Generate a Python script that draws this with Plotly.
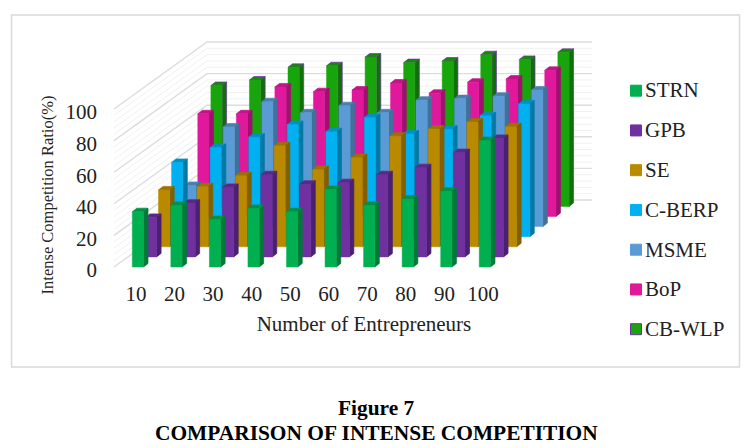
import plotly.graph_objects as go

categories = ["10", "20", "30", "40", "50", "60", "70", "80", "90", "100"]
y_ticks = [0, 20, 40, 60, 80, 100]
STRN = [35, 39, 30, 37, 35, 49, 39, 43, 48, 80]
GPB = [25, 34, 44, 52, 46, 47, 52, 56.5, 66, 75]
SE = [36, 38, 45, 64, 49, 56.5, 70, 74.5, 79, 76]
C_BERP = [47, 56.5, 63, 71, 66.5, 75.5, 65, 68, 76.5, 84]
MSME = [26, 63, 79, 72, 76.5, 72, 80, 81, 82.5, 86.5]
BoP = [65, 65, 82, 79, 80, 84.5, 78, 85, 87, 92.5]
CB_WLP = [76.5, 80, 88, 89, 94.5, 91, 92, 96, 93, 97.5]

series = [
    ("STRN", STRN, "#00b050", "#007a38", "#009045", "#00b050"),
    ("GPB", GPB, "#7030a0", "#4a2070", "#5c2888", "#7030a0"),
    ("SE", SE, "#b98a00", "#806000", "#9a7300", "#b98a00"),
    ("C-BERP", C_BERP, "#00b0f0", "#0079a6", "#0090c8", "#00b0f0"),
    ("MSME", MSME, "#5b9bd5", "#41709a", "#4a80b0", "#5b9bd5"),
    ("BoP", BoP, "#e0189c", "#a0116f", "#c01585", "#e0189c"),
    ("CB-WLP", CB_WLP, "#18a50c", "#116f09", "#148a0a", "#7030a0"),
]

W, H = 756, 448
def fx_paper(px):
    return px / W
def fy_paper(px):
    return 1 - px / H

X0_PX, X_PX = 136.0, 38.55     # page pixel of tick 0, pixels per category
Y0_PX, Y_PX = 267.0, 1.58      # page pixel of value 0, pixels per value unit
DOM_X1, DOM_Y1 = 728, 390      # right and bottom page pixel of the plot area

def ux(px):
    return px / X_PX
def uy(px):
    return px / Y_PX

STEP_X, STEP_Y = ux(13.1), uy(10.1)   # shift per series going back
BAR_W = ux(11.2)
BAR_OFF = ux(-3.7)
SIDE_X, SIDE_Y = ux(4.5), uy(3.5)
WALL_X0, WALL_X1 = ux(114 - X0_PX), ux(499 - X0_PX)
DEPTH_X, DEPTH_Y = ux(93), uy(67)

fig = go.Figure()

def lines(xs, ys, color, width):
    fig.add_trace(go.Scatter(x=xs, y=ys, mode="lines", line=dict(color=color, width=width),
                             hoverinfo="skip", showlegend=False))

# gridlines on the side wall and the back wall
for major in (False, True):
    xs, ys = [], []
    for v in range(0, 101, 4):
        if (v % 20 == 0) != major:
            continue
        xs += [WALL_X0, WALL_X0 + DEPTH_X, WALL_X1 + DEPTH_X, None]
        ys += [v, v + DEPTH_Y, v + DEPTH_Y, None]
    lines(xs, ys, "#dcdcdc" if major else "#f1f1f1", 1.4 if major else 1)

# bars, back series first
for s in range(len(series) - 1, -1, -1):
    name, vals, front, side, top, edge = series[s]
    fx, fy, sx, sy, tx, ty = [], [], [], [], [], []
    for i, v in enumerate(vals):
        l = i + BAR_OFF + s * STEP_X
        r = l + BAR_W
        b = s * STEP_Y
        t = b + v
        fx += [l, r, r, l, l, None]
        fy += [b, b, t, t, b, None]
        sx += [r, r + SIDE_X, r + SIDE_X, r, r, None]
        sy += [b, b + SIDE_Y, t + SIDE_Y, t, b, None]
        tx += [l, r, r + SIDE_X, l + SIDE_X, l, None]
        ty += [t, t, t + SIDE_Y, t + SIDE_Y, t, None]
    for xs, ys, col, lc, lw in (
        (tx, ty, top, edge if edge != front else top, 0.7),
        (sx, sy, side, edge if edge != front else side, 0.7),
        (fx, fy, front, front, 0.5),
    ):
        fig.add_trace(go.Scatter(x=xs, y=ys, mode="lines", fill="toself", fillcolor=col,
                                 line=dict(color=lc, width=lw), hoverinfo="skip",
                                 showlegend=False))

# legend entries: the text comes from the legend, the swatch sits close to it as a shape
LEG_Y0, LEG_STEP = 90.7, 39.75
shapes = [dict(type="rect", xref="paper", yref="paper", x0=fx_paper(11.5), x1=fx_paper(739.5),
               y0=fy_paper(367), y1=fy_paper(15), line=dict(color="#d9d9d9", width=1.5),
               layer="below")]
for k, (name, vals, front, side, top, edge) in enumerate(series):
    fig.add_trace(go.Scatter(x=[None], y=[None], mode="markers", name=name, legendgroup=name,
                             marker=dict(symbol="square", size=12, color="rgba(0,0,0,0)",
                                         line=dict(width=0))))
    cy = LEG_Y0 + k * LEG_STEP
    shapes.append(dict(type="rect", xref="paper", yref="paper", x0=fx_paper(630.5),
                       x1=fx_paper(641.5), y0=fy_paper(cy + 5.5), y1=fy_paper(cy - 5.5),
                       fillcolor=front, line=dict(color=edge, width=1)))

FONT = "Liberation Serif"
fig.update_layout(
    width=W, height=H, margin=dict(l=0, r=0, t=0, b=0, pad=0),
    paper_bgcolor="white", plot_bgcolor="white",
    font=dict(family=FONT, size=21, color="#222222"),
    xaxis=dict(domain=[0, fx_paper(DOM_X1)], range=[-X0_PX / X_PX, (DOM_X1 - X0_PX) / X_PX],
               anchor="free", position=fy_paper(279),
               tickmode="array", tickvals=list(range(len(categories))), ticktext=categories,
               showgrid=False, zeroline=False, showline=False, ticks="",
               title=dict(text="Number of Entrepreneurs", font=dict(size=21), standoff=11)),
    yaxis=dict(domain=[fy_paper(DOM_Y1), 1], range=[(Y0_PX - DOM_Y1) / Y_PX, Y0_PX / Y_PX],
               anchor="free", position=fx_paper(97),
               tickmode="array", tickvals=y_ticks, ticklabelshift=3,
               showgrid=False, zeroline=False, showline=False, ticks="",
               title=dict(text="Intense Competition Ratio(%)", font=dict(size=16.5), standoff=6)),
    legend=dict(x=fx_paper(615), xanchor="left", y=fy_paper(69), yanchor="top", tracegroupgap=9.5,
                bgcolor="rgba(0,0,0,0)", indentation=-10, itemwidth=30,
                font=dict(size=21)),
    shapes=shapes,
    annotations=[
        dict(text="<b>Figure 7</b>", xref="paper", yref="paper", x=fx_paper(376), y=fy_paper(408),
             yanchor="middle", showarrow=False, font=dict(size=21.4, color="black")),
        dict(text="<b>COMPARISON OF INTENSE COMPETITION</b>", xref="paper", yref="paper",
             x=fx_paper(376), y=fy_paper(433), yanchor="middle", showarrow=False,
             font=dict(size=21.4, color="black")),
    ],
)
fig.write_html("out.html", config={"displayModeBar": False},
               post_script="document.body.style.margin='0';document.documentElement.style.overflow='hidden';")
